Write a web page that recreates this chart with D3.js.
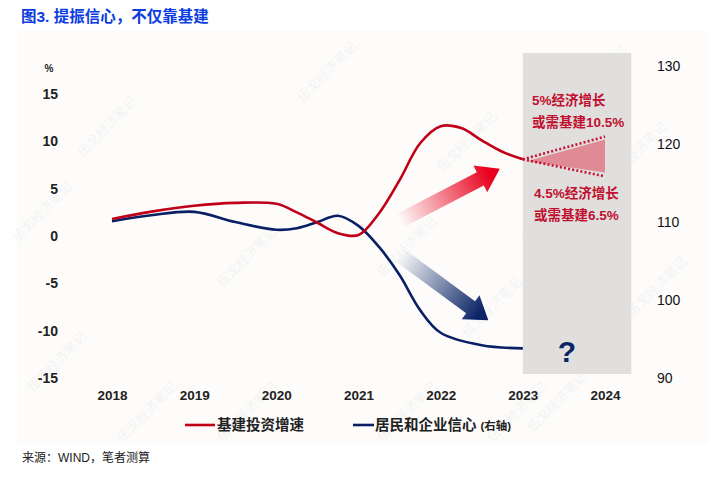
<!DOCTYPE html>
<html><head><meta charset="utf-8">
<script src="https://cdn.jsdelivr.net/npm/d3@7"></script>
<style>
body{margin:0;background:#fff;}
svg text{font-family:"Liberation Sans","Noto Sans CJK SC",Arial,sans-serif;}
</style></head>
<body><svg id="c" width="716" height="478"></svg>
<script>
// ---- data ----
const years = [2018, 2019, 2020, 2021, 2022, 2023, 2024];
const leftTicks = [-15, -10, -5, 0, 5, 10, 15];
const rightTicks = [90, 100, 110, 120, 130];
// 基建投资增速 (%) (fractional years)
const infraX = [2018, 2018.5, 2019, 2019.5, 2020, 2020.25, 2020.5, 2020.75, 2021, 2021.25, 2021.5, 2021.75, 2022, 2022.25, 2022.5, 2022.75, 2023];
const infraY = [1.8, 2.6, 3.2, 3.5, 3.4, 2.5, 1.4, 0.3, 0.1, 2.4, 5.9, 9.8, 11.6, 11.4, 10.1, 8.9, 8.1];
// 居民和企业信心 (右轴)
const confX = [2018, 2018.5, 2019, 2019.5, 2020, 2020.25, 2020.5, 2020.75, 2021, 2021.25, 2021.5, 2021.75, 2022, 2022.5, 2023];
const confY = [110.1, 110.9, 111.3, 110.0, 109.0, 109.2, 110.0, 110.8, 109.5, 106.8, 103.2, 98.7, 95.8, 94.2, 93.8];
// scenarios for 2024
const scenX = [2023, 2024];
const scenHigh = [8.1, 10.5];
const scenLow = [8.1, 6.3];
const legendNames = ["基建投资增速", "居民和企业信心"];

const svg = d3.select("#c");
const x = d3.scaleLinear().domain([2018, 2024]).range([112, 605]);
const yL = d3.scaleLinear().domain([-15, 15]).range([378, 94]);
const yR = d3.scaleLinear().domain([90, 130]).range([378, 66]);

const red = "#c00018", navy = "#0a1f64", annot = "#c01030";

// background
svg.append("rect").attr("x", 17).attr("y", 30).attr("width", 691).attr("height", 415).attr("fill", "#fdfcfb");

// watermarks
const wm = [[110,130],[45,215],[60,365],[470,145],[410,250],[495,310],[555,215],[640,155],[660,290],[150,415],[250,415],[410,415],[520,415],[330,75],[250,260],[600,80],[560,405]];
svg.append("g").selectAll("text").data(wm).join("text")
  .attr("transform", d => `translate(${d[0]},${d[1]}) rotate(-45)`)
  .attr("font-size", 13).attr("fill", "#000").attr("opacity", 0.035)
  .attr("text-anchor", "middle").text("伍戈经济笔记");

// gray forecast band
svg.append("rect").attr("x", x(2023)).attr("y", 53)
  .attr("width", x(2024.32) - x(2023)).attr("height", 321).attr("fill", "#e0dfde");

// gradients
const defs = svg.append("defs");
function grad(id, col, x1, y1, x2, y2) {
  const g = defs.append("linearGradient").attr("id", id).attr("gradientUnits", "userSpaceOnUse")
    .attr("x1", x1).attr("y1", y1).attr("x2", x2).attr("y2", y2);
  g.append("stop").attr("offset", 0).attr("stop-color", col).attr("stop-opacity", 0);
  g.append("stop").attr("offset", 1).attr("stop-color", col).attr("stop-opacity", 1);
}
function arrow(id, col, p0, p1, shaft, headW, headL) {
  const [x0, y0] = [x(p0[0]), yL(p0[1])], [x1, y1] = [x(p1[0]), yL(p1[1])];
  grad(id, col, x0, y0, x1 - (x1 - x0) * 0.1, y1 - (y1 - y0) * 0.1);
  const dx = x1 - x0, dy = y1 - y0, L = Math.hypot(dx, dy);
  const ux = dx / L, uy = dy / L, nx = -uy, ny = ux;
  const bx = x1 - ux * headL, by = y1 - uy * headL;
  const pts = [
    [x0 + nx * shaft / 2, y0 + ny * shaft / 2],
    [bx + nx * shaft / 2, by + ny * shaft / 2],
    [bx + nx * headW / 2, by + ny * headW / 2],
    [x1, y1],
    [bx - nx * headW / 2, by - ny * headW / 2],
    [bx - nx * shaft / 2, by - ny * shaft / 2],
    [x0 - nx * shaft / 2, y0 - ny * shaft / 2]
  ];
  svg.append("polygon").attr("points", pts.map(p => p.join(",")).join(" ")).attr("fill", `url(#${id})`);
}
arrow("gr", "#e8001c", [2021.5, 1.6], [2022.72, 7.1], 15, 30, 22);
arrow("gb", "#0a2466", [2021.5, -2.0], [2022.58, -8.9], 15, 30, 22);

// scenario triangle
const tri = [[2023.05, 7.9], [2024, 10.2], [2024, 6.7]];
svg.append("polygon").attr("points", tri.map(d => [x(d[0]), yL(d[1])].join(",")).join(" "))
  .attr("fill", "#e08a96");

// lines
const lineL = d3.line().x(d => x(d[0])).y(d => yL(d[1])).curve(d3.curveCatmullRom.alpha(0.5));
const lineR = d3.line().x(d => x(d[0])).y(d => yR(d[1])).curve(d3.curveCatmullRom.alpha(0.5));
svg.append("path").datum(confX.map((v, i) => [v, confY[i]])).attr("d", lineR)
  .attr("fill", "none").attr("stroke", navy).attr("stroke-width", 2.6);
svg.append("path").datum(infraX.map((v, i) => [v, infraY[i]])).attr("d", lineL)
  .attr("fill", "none").attr("stroke", red).attr("stroke-width", 2.6);

// dotted scenario lines
[scenHigh, scenLow].forEach(s => {
  svg.append("path").datum(scenX.map((v, i) => [v, s[i]]))
    .attr("d", d3.line().x(d => x(d[0])).y(d => yL(d[1])))
    .attr("fill", "none").attr("stroke", "#c8102e").attr("stroke-width", 2.6)
    .attr("stroke-dasharray", "2,2.2");
});

// axes (labels only)
const axL = svg.append("g").attr("transform", "translate(58,0)")
  .call(d3.axisLeft(yL).tickValues(leftTicks).tickFormat(d => String(d)).tickSize(0).tickPadding(0));
const axR = svg.append("g").attr("transform", "translate(657,0)")
  .call(d3.axisRight(yR).tickValues(rightTicks).tickFormat(d => String(d)).tickSize(0).tickPadding(0));
const axB = svg.append("g").attr("transform", "translate(0,390)")
  .call(d3.axisBottom(x).tickValues(years).tickFormat(d => String(d)).tickSize(0).tickPadding(0));
[axL, axR, axB].forEach(a => {
  a.select(".domain").remove();
  a.selectAll("text").attr("font-size", 14).attr("font-weight", "bold").attr("fill", "#222")
    .style("font-family", '"Liberation Sans",Arial,sans-serif');
});
axR.selectAll("text").attr("font-weight", "normal").attr("font-size", 14).attr("fill", "#111");
axB.selectAll("text").attr("dy", "0.71em").attr("font-size", 13.5);
svg.append("text").attr("x", 49).attr("y", 72).attr("text-anchor", "middle")
  .attr("font-size", 10).attr("font-weight", "bold").attr("fill", "#222").text("%");

// annotations
const ann = svg.append("g").attr("fill", annot).attr("font-weight", "bold").attr("font-size", 13.5);
ann.append("text").attr("x", 532).attr("y", 105).text("5%经济增长");
ann.append("text").attr("x", 532).attr("y", 127).text("或需基建10.5%");
ann.append("text").attr("x", 534).attr("y", 198).text("4.5%经济增长");
ann.append("text").attr("x", 534).attr("y", 220).text("或需基建6.5%");
svg.append("text").attr("x", 567).attr("y", 362).attr("text-anchor", "middle")
  .attr("font-size", 30).attr("font-weight", "bold").attr("fill", "#0a2466").text("?");

// legend
const lg = svg.append("g");
lg.append("line").attr("x1", 185).attr("x2", 215).attr("y1", 425).attr("y2", 425).attr("stroke", red).attr("stroke-width", 2.6);
lg.append("text").attr("x", 217).attr("y", 430).attr("font-size", 14.5).attr("font-weight", "bold").attr("fill", "#222").text(legendNames[0]);
lg.append("line").attr("x1", 353).attr("x2", 374).attr("y1", 425).attr("y2", 425).attr("stroke", navy).attr("stroke-width", 2.6);
const t2 = lg.append("text").attr("x", 375).attr("y", 430).attr("font-weight", "bold").attr("fill", "#222");
t2.append("tspan").attr("font-size", 14.5).text(legendNames[1]);
t2.append("tspan").attr("font-size", 11.5).attr("dx", 4).text("(右轴)");

// title & source
svg.append("text").attr("x", 21).attr("y", 22).attr("font-size", 15.5).attr("font-weight", "bold")
  .attr("fill", "#0b3de0").text("图3. 提振信心，不仅靠基建");
svg.append("text").attr("x", 22).attr("y", 462).attr("font-size", 12).attr("fill", "#222").text("来源：WIND，笔者测算");
</script></body></html>
